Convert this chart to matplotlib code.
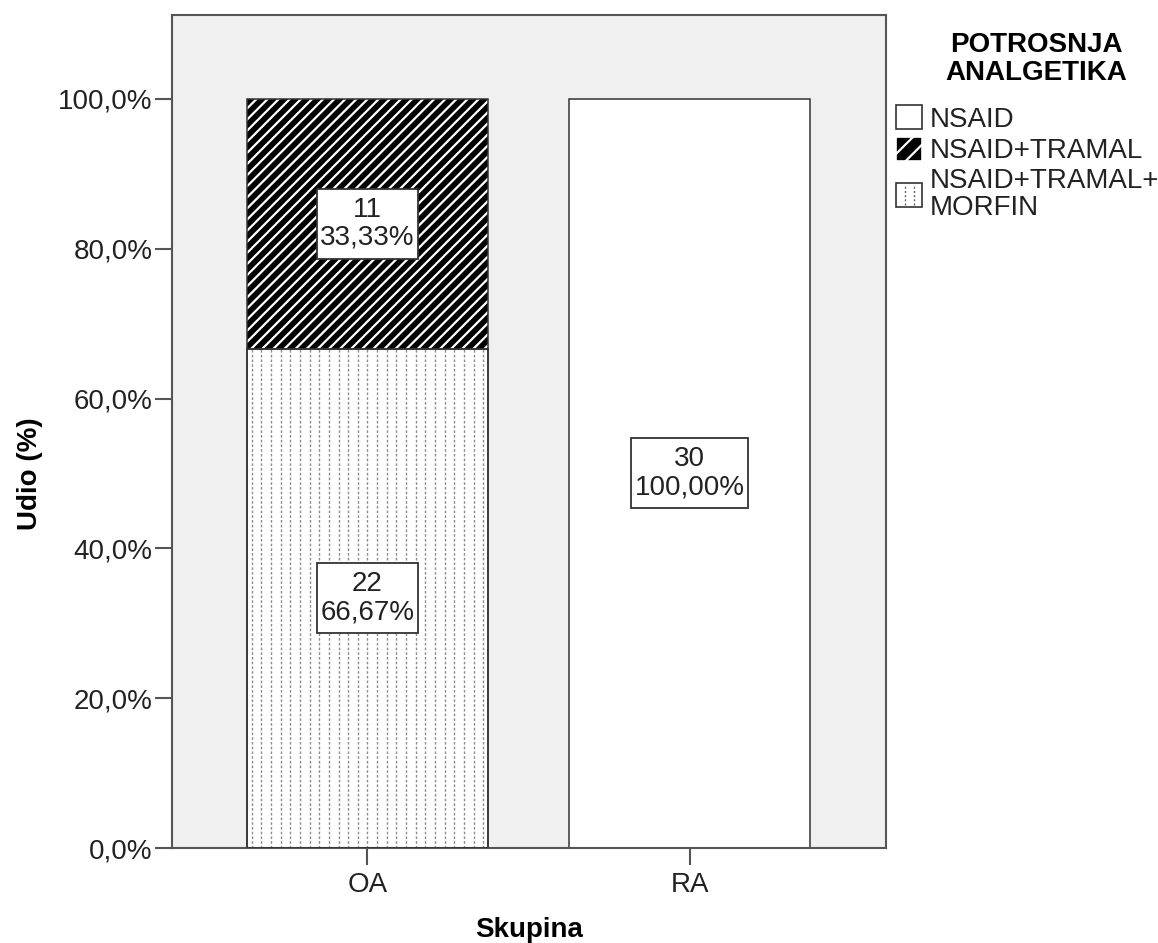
import matplotlib
matplotlib.use("Agg")
import matplotlib.pyplot as plt
from matplotlib.patches import Patch, Rectangle
from matplotlib.lines import Line2D
from matplotlib.legend_handler import HandlerPatch
from matplotlib.path import Path
import numpy as np

plt.rcParams['font.family'] = ['Liberation Sans', 'DejaVu Sans']
plt.rcParams['hatch.linewidth'] = 1.6

groups = ["OA", "RA"]
series = ["NSAID+TRAMAL+\nMORFIN", "NSAID+TRAMAL", "NSAID"]   # bottom -> top
counts = {
    "NSAID+TRAMAL+\nMORFIN": [22, 0],
    "NSAID+TRAMAL": [11, 0],
    "NSAID": [0, 30],
}
legend_order = ["NSAID", "NSAID+TRAMAL", "NSAID+TRAMAL+\nMORFIN"]
yticks = [0, 20, 40, 60, 80, 100]
ytick_labels = ["0,0%", "20,0%", "40,0%", "60,0%", "80,0%", "100,0%"]

totals = np.sum([counts[s] for s in series], axis=0)

W, H = 1158, 943
fig = plt.figure(figsize=(W/100, H/100), dpi=100)
ax = fig.add_axes([172/W, 95/H, (886-172)/W, (848-15)/H])
ax.set_facecolor("#f0f0f0")

x = np.arange(len(groups))
width = 0.75
edge = "#333333"
FS = 20


def label_box(x0, y0, width, height, mutation_size):
    px = 0.12 * mutation_size
    py = 0.28 * mutation_size
    x0, y0 = x0 - px, y0 - py
    x1, y1 = x0 + width + 2 * px, y0 + height + 2 * py
    return Path([(x0, y0), (x1, y0), (x1, y1), (x0, y1), (x0, y0)], closed=True)


bottom = np.zeros(len(groups))
for s in series:
    vals = np.array(counts[s], dtype=float)
    pct = vals / totals * 100
    for i in range(len(groups)):
        if vals[i] == 0:
            continue
        if s == "NSAID+TRAMAL":
            ax.bar(x[i], pct[i], width, bottom=bottom[i], color="black",
                   edgecolor="white", hatch="///", linewidth=0, zorder=2)
            ax.bar(x[i], pct[i], width, bottom=bottom[i], fill=False,
                   edgecolor=edge, linewidth=1.1, zorder=3)
        elif s == "NSAID+TRAMAL+\nMORFIN":
            b = ax.bar(x[i], pct[i], width, bottom=bottom[i], color="white",
                       edgecolor=edge, linewidth=1.1, zorder=2)[0]
            step = 0.03
            xs = np.arange(x[i] - width/2 + step*0.5, x[i] + width/2, step)
            lc = ax.vlines(xs, bottom[i], bottom[i] + pct[i], colors="#8c8c8c",
                           linewidth=1.0, linestyles=(0, (1.9, 1.5)), zorder=2.5)
            lc.set_clip_path(b)
            ax.bar(x[i], pct[i], width, bottom=bottom[i], fill=False,
                   edgecolor=edge, linewidth=1.1, zorder=3)
        else:
            ax.bar(x[i], pct[i], width, bottom=bottom[i], color="white",
                   edgecolor=edge, linewidth=1.1, zorder=2)
        label = f"{int(vals[i])}\n{pct[i]:.2f}%".replace(".", ",")
        ax.text(x[i], bottom[i] + pct[i]/2, label, ha="center", va="center",
                fontsize=FS, color="#222222", linespacing=1.12, zorder=5,
                bbox=dict(boxstyle=label_box, facecolor="white",
                          edgecolor=edge, linewidth=1.3))
    bottom += np.array(counts[s], dtype=float) / totals * 100

ax.set_xlim(-0.607, 1.61)
ax.set_ylim(0, 111.2)
ax.set_xticks(x)
ax.set_xticklabels(groups, fontsize=FS, color="#222222")
ax.set_yticks(yticks)
ax.set_yticklabels(ytick_labels, fontsize=FS, color="#222222")
ax.tick_params(axis="both", direction="out", length=12, width=1.5, color="#555555")
ax.tick_params(axis="x", pad=5)
ax.tick_params(axis="y", pad=2)
for sp in ax.spines.values():
    sp.set_color("#555555")
    sp.set_linewidth(1.5)

ax.set_xlabel("Skupina", fontsize=FS, fontweight="bold", labelpad=14)
ax.set_ylabel("Udio (%)", fontsize=FS, fontweight="bold", labelpad=12)
ax.yaxis.set_label_coords(-0.18, 50/111.2)


class DottedHandler(HandlerPatch):
    def create_artists(self, legend, orig_handle, xdescent, ydescent, width,
                       height, fontsize, trans):
        r = Rectangle((-xdescent, -ydescent), width, height, facecolor="white",
                      edgecolor=edge, linewidth=1.2, transform=trans)
        arts = [r]
        for f in (1/3, 2/3):
            xx = -xdescent + width * f
            arts.append(Line2D([xx, xx], [-ydescent + 2, -ydescent + height - 2],
                               color="#666666", linewidth=1.0,
                               linestyle=(0, (1.5, 1.5)), transform=trans))
        return arts


handles = []
handler_map = {}
for s in legend_order:
    if s == "NSAID":
        handles.append(Patch(facecolor="white", edgecolor=edge, linewidth=1.2))
    elif s == "NSAID+TRAMAL":
        handles.append(Patch(facecolor="black", edgecolor="white", hatch="//", linewidth=1.2))
    else:
        h = Patch(facecolor="white", edgecolor=edge)
        handles.append(h)
        handler_map[h] = DottedHandler()

leg = fig.legend(handles, legend_order, loc="upper left", handler_map=handler_map,
                 bbox_to_anchor=(896/W, 1 - 105/H), frameon=False,
                 fontsize=FS, handlelength=0.95, handleheight=0.95,
                 handletextpad=0.25, labelspacing=0.15, borderpad=0,
                 borderaxespad=0)
for t in leg.get_texts():
    t.set_color("#222222")
    t.set_linespacing(1.05)

fig.text(1036/W, 1 - 59/H, "POTROSNJA\nANALGETIKA", ha="center", va="center",
         fontsize=FS, fontweight="bold", linespacing=1.07, color="black")

fig.savefig("out.png", dpi=100)
